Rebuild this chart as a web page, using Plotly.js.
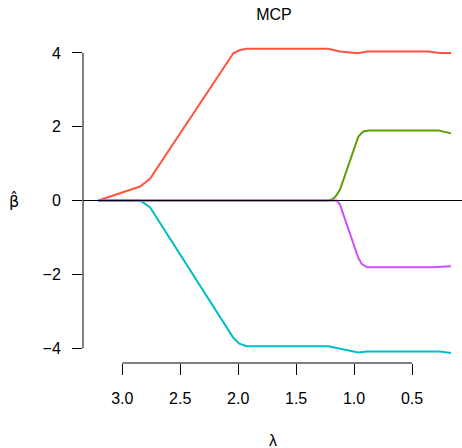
<!DOCTYPE html>
<html>
<head>
<meta charset="utf-8">
<script src="https://cdn.plot.ly/plotly-3.0.1.min.js"></script>
<style>html,body{margin:0;padding:0;background:#fff;}#chart{width:462px;height:448px;}</style>
</head>
<body>
<div id="chart"></div>
<script>
// Coefficient paths (lambda decreasing left to right)
const lamRed   = [3.207, 2.847, 2.761, 2.042, 1.990, 1.927, 1.222, 1.122, 0.964, 0.891, 0.360, 0.259, 0.164];
const betaRed  = [0, 0.38, 0.59, 3.99, 4.07, 4.11, 4.11, 4.04, 3.99, 4.04, 4.04, 4.00, 4.00];

const lamGreen  = [3.207, 1.222, 1.190, 1.165, 1.122, 0.964, 0.935, 0.920, 0.877, 0.274, 0.164];
const betaGreen = [0, 0, 0.03, 0.09, 0.29, 1.73, 1.83, 1.87, 1.90, 1.90, 1.82];

const lamCyan  = [3.207, 2.847, 2.761, 2.042, 1.990, 1.927, 1.222, 0.964, 0.891, 0.259, 0.164];
const betaCyan = [0, 0, -0.18, -3.72, -3.88, -3.95, -3.95, -4.12, -4.09, -4.09, -4.13];

const lamMag  = [3.207, 1.150, 1.122, 0.964, 0.934, 0.886, 0.330, 0.164];
const betaMag = [0, 0, -0.11, -1.55, -1.72, -1.81, -1.81, -1.78];

const xTickVals = [3.0, 2.5, 2.0, 1.5, 1.0, 0.5];
const xTickText = ["3.0", "2.5", "2.0", "1.5", "1.0", "0.5"];
const yTickVals = [-4, -2, 0, 2, 4];
const yTickText = ["\u22124", "\u22122", "0", "2", "4"];

const colors = ["#FF5440", "#5C9F00", "#00BEC8", "#D24DFF"];
const series = [[lamRed, betaRed], [lamGreen, betaGreen], [lamCyan, betaCyan], [lamMag, betaMag]];

const FONT = "Liberation Sans, Arial, Helvetica, sans-serif";

const traces = series.map((s, i) => ({
  x: s[0], y: s[1], type: "scatter", mode: "lines",
  line: {color: colors[i], width: 2}, hoverinfo: "skip", showlegend: false
}));

const layout = {
  width: 462, height: 448,
  margin: {l: 83, r: 0, t: 36, b: 85, pad: 0},
  paper_bgcolor: "#fff", plot_bgcolor: "#fff",
  showlegend: false,
  font: {family: FONT, size: 16, color: "#000"},
  xaxis: {
    range: [3.339, 0.069], showgrid: false, zeroline: false, showline: false,
    tickmode: "array", tickvals: xTickVals, ticktext: xTickText,
    ticks: "outside", ticklen: 11, tickwidth: 1, tickcolor: "#000",
    ticklabelstandoff: 10,
    tickfont: {family: FONT, size: 16, color: "#000"}
  },
  yaxis: {
    range: [-4.403, 4.458], showgrid: false, zeroline: false, showline: false,
    tickmode: "array", tickvals: yTickVals, ticktext: yTickText,
    ticks: "outside", ticklen: 10, tickwidth: 1, tickcolor: "#000",
    ticklabelstandoff: 8,
    tickfont: {family: FONT, size: 16, color: "#000"}
  },
  title: {
    text: "MCP", font: {family: FONT, size: 16, color: "#000"},
    xref: "container", yref: "container", x: 274/462, y: 1 - 14/448,
    xanchor: "center", yanchor: "middle"
  },
  annotations: [
    {text: "\u03bb", xref: "paper", yref: "paper", x: (273-83)/379, y: -(440-363)/327,
     xanchor: "center", yanchor: "middle", showarrow: false,
     font: {family: FONT, size: 16, color: "#000"}},
    {text: "\u03b2\u0302", xref: "paper", yref: "y", x: -(83-14)/379, y: 0,
     xanchor: "center", yanchor: "middle", showarrow: false,
     font: {family: "DejaVu Sans, " + FONT, size: 16, color: "#000"}}
  ],
  shapes: [
    // zero reference line (drawn over the paths as in the original)
    {type: "line", xref: "paper", yref: "y", x0: 0, x1: 1, y0: 0, y1: 0,
     line: {color: "#000", width: 1}, layer: "above"},
    // detached y axis line spanning first to last tick
    {type: "line", xref: "paper", yref: "y", x0: 0, x1: 0,
     y0: yTickVals[0], y1: yTickVals[yTickVals.length-1],
     line: {color: "#000", width: 1}, layer: "above"},
    // detached x axis line spanning first to last tick
    {type: "line", xref: "x", yref: "paper", y0: 0, y1: 0,
     x0: xTickVals[0], x1: xTickVals[xTickVals.length-1],
     line: {color: "#000", width: 1}, layer: "above"}
  ]
};

Plotly.newPlot("chart", traces, layout, {displayModeBar: false, staticPlot: true});
</script>
</body>
</html>
